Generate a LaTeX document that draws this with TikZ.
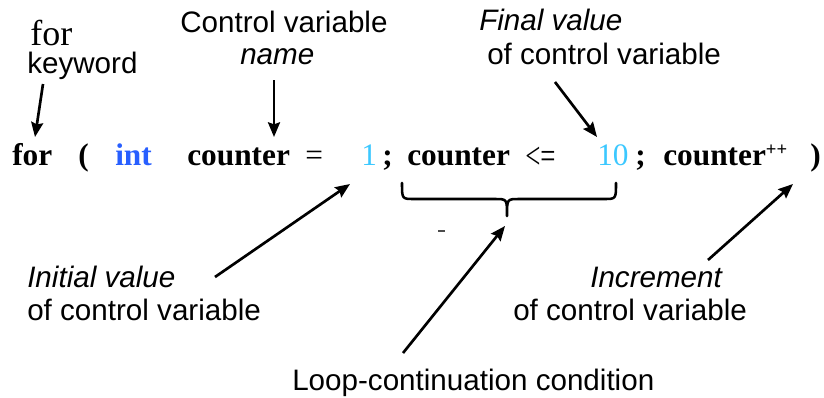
\documentclass[tikz,border=0pt]{standalone}
\usepackage{fontspec}
\setmainfont{Liberation Sans}
\newfontfamily\codeface{Liberation Serif}
\usetikzlibrary{arrows.meta}

\definecolor{kwblue}{RGB}{40,95,255}
\definecolor{numcyan}{RGB}{60,200,255}

\tikzset{
  label/.style={inner sep=0pt, anchor=base west, font=\fontsize{22.2}{26}\selectfont},
  italabel/.style={label, font=\fontsize{22.2}{26}\selectfont\itshape},
  code/.style={inner sep=0pt, anchor=base west, font=\fontsize{23.5}{28}\selectfont\codeface\bfseries},
  plaincode/.style={inner sep=0pt, anchor=base west, font=\fontsize{23.5}{28}\selectfont\codeface},
  pointer/.style={line width=2pt, -{Stealth[length=11pt,width=9pt,inset=1.5pt]}},
  bracepath/.style={line width=1.9pt, line cap=round, line join=round}
}

\begin{document}
\begin{tikzpicture}[x=0.75pt,y=-0.75pt]
\useasboundingbox (0,0) rectangle (824,397);

% annotation texts
\node[inner sep=0pt, anchor=base west, font=\fontsize{27}{30}\selectfont\codeface] (forlbl) at (30,45) {for};
\node[label] (kwlbl) at (27,73) {keyword};
\node[label] (cvlbl) at (180,32) {Control variable};
\node[italabel] (namelbl) at (240,64) {name};
\node[italabel] (finlbl) at (479,30) {Final value};
\node[label] (finlbl2) at (487,64) {of control variable};
\node[italabel] (inilbl) at (27,287) {Initial value};
\node[label] (inilbl2) at (27,320) {of control variable};
\node[italabel] (inclbl) at (590,287) {Increment};
\node[label] (inclbl2) at (513,320) {of control variable};
\node[label] (looplbl) at (292,390) {Loop-continuation condition};

% the for statement, token by token
\node[code] (tfor) at (12,165) {for};
\node[code] (tlp) at (78,165) {(};
\node[code, text=kwblue] (tint) at (115,165) {int};
\node[code] (tctr) at (187,165) {counter};
\node[plaincode] (teq) at (305,165) {=};
\node[plaincode, text=numcyan] (tone) at (361,165) {1};
\node[code] (tsc1) at (382,165) {;};
\node[code] (tctr2) at (407,165) {counter};
\node[plaincode, font=\fontsize{28}{30}\selectfont\codeface] (tle) at (525,168) {\scalebox{0.72}[1]{<=}};
\node[plaincode, text=numcyan] (tten) at (597,165) {10};
\node[code] (tsc2) at (635,165) {;};
\node[code] (tctr3) at (663,165) {counter\raisebox{7pt}{\fontsize{14}{14}\selectfont++}};
\node[code] (trp) at (810,165) {)};

% arrow end points
\coordinate (kwA) at (43,84);   \coordinate (kwB) at (35,137);
\coordinate (nmA) at (274,80);  \coordinate (nmB) at (274,137);
\coordinate (fnA) at (555,82);  \coordinate (fnB) at (597,137);
\coordinate (inA) at (215,277); \coordinate (inB) at (350,184);
\coordinate (lpA) at (403,353); \coordinate (lpB) at (505,226);
\coordinate (icA) at (708,260); \coordinate (icB) at (793,184);

\draw[pointer] (kwA) -- (kwB);
\draw[pointer] (nmA) -- (nmB);
\draw[pointer] (fnA) -- (fnB);
\draw[pointer] (inA) -- (inB);
\draw[pointer] (lpA) -- (lpB);
\draw[pointer] (icA) -- (icB);

% brace under the condition
\coordinate (brL) at (402,183);
\coordinate (brTip) at (507,216);
\coordinate (brR) at (616,183);
\draw[bracepath] (brL) .. controls (402,199) .. (414,199) -- (495,199)
  .. controls (507,199) .. (brTip)
  .. controls (507,199) .. (519,199) -- (604,199)
  .. controls (616,199) .. (brR);

% small stray tick
\coordinate (tkA) at (438,231);
\coordinate (tkB) at (445,231);
\draw[line width=0.9pt, black!70] (tkA) -- (tkB);
\end{tikzpicture}
\end{document}
